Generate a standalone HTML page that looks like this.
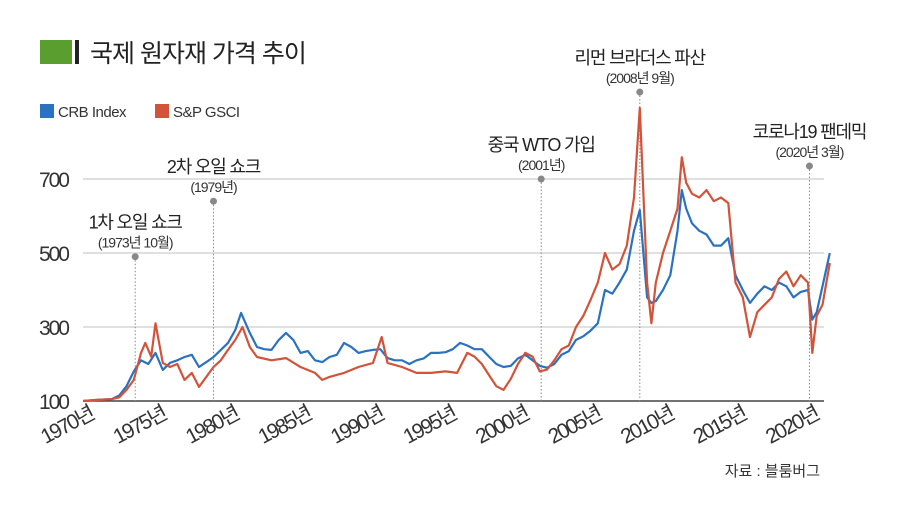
<!DOCTYPE html>
<html><head><meta charset="utf-8"><style>
body{margin:0;background:#fff;}
svg{display:block;font-family:"Liberation Sans","Noto Sans CJK KR",sans-serif;}
</style></head><body>
<svg id="chart" width="900" height="521" viewBox="0 0 900 521">
<rect x="40" y="40" width="32" height="24" fill="#5a9e2f"/>
<rect x="75" y="40" width="4" height="24" fill="#222"/>
<text x="90" y="62" font-size="25" fill="#222" letter-spacing="-1">국제 원자재 가격 추이</text>
<g>
<rect x="40" y="104" width="14" height="14" fill="#2a72c0"/>
<text x="58" y="117" font-size="15" fill="#333" letter-spacing="-0.5">CRB Index</text>
<rect x="155" y="104" width="14" height="14" fill="#d2533a"/>
<text x="173" y="117" font-size="15" fill="#333" letter-spacing="-0.5">S&amp;P GSCI</text>
</g>
<g id="grid"></g><g id="yt"></g><g id="xt"></g><g id="ann"></g><g id="series"></g>
<text x="820" y="476" font-size="15" text-anchor="end" fill="#333">자료 : 블룸버그</text>
</svg>
<script>
const yTicks=[100,300,500,700];
const xTicks=[1970,1975,1980,1985,1990,1995,2000,2005,2010,2015,2020];
const crbYears=[1970,1971,1972,1972.5,1973,1973.5,1974,1974.5,1975,1975.5,1976,1976.5,1977,1977.5,1978,1978.5,1979,1979.5,1980,1980.5,1980.9,1981.5,1982,1982.5,1983,1983.5,1984,1984.5,1985,1985.5,1986,1986.5,1987,1987.5,1988,1988.5,1989,1989.5,1990,1990.5,1991,1991.5,1992,1992.5,1993,1993.5,1994,1994.5,1995,1995.5,1996,1996.5,1997,1997.5,1998,1998.5,1999,1999.5,2000,2000.5,2001,2001.5,2002,2002.5,2003,2003.5,2004,2004.5,2005,2005.5,2006,2006.5,2007,2007.5,2008,2008.4,2008.9,2009.2,2009.5,2010,2010.5,2011,2011.3,2011.6,2012,2012.5,2013,2013.5,2014,2014.5,2015,2015.5,2016,2016.5,2017,2017.5,2018,2018.5,2019,2019.5,2020,2020.3,2020.6,2021,2021.5];
const crbValues=[100,103,105,115,140,180,210,200,230,184,203,210,219,225,192,205,219,238,257,292,338,284,246,240,238,265,284,265,230,235,210,205,219,225,257,246,230,235,238,240,216,210,210,200,210,215,230,230,232,240,257,250,240,240,220,200,192,195,215,225,210,195,190,200,225,235,265,275,290,310,400,390,420,455,560,616,380,365,370,400,440,560,670,620,580,560,550,520,520,540,440,400,365,390,410,400,420,410,380,395,400,320,340,410,500];
const gsciYears=[1970,1971,1972,1972.5,1973,1973.5,1974,1974.3,1974.7,1975,1975.5,1976,1976.5,1977,1977.5,1978,1978.5,1979,1979.5,1980,1980.5,1981,1981.5,1982,1983,1984,1985,1986,1986.5,1987,1988,1989,1990,1990.6,1991,1992,1993,1994,1995,1995.8,1996.5,1997,1997.5,1998,1998.5,1999,1999.5,2000,2000.5,2001,2001.5,2002,2002.5,2003,2003.5,2004,2004.5,2005,2005.5,2006,2006.5,2007,2007.5,2008,2008.4,2008.9,2009.2,2009.5,2010,2010.5,2011,2011.3,2011.6,2012,2012.5,2013,2013.5,2014,2014.5,2015,2015.5,2016,2016.5,2017,2017.5,2018,2018.5,2019,2019.5,2020,2020.3,2020.6,2021,2021.5];
const gsciValues=[100,103,105,110,130,157,230,257,220,310,203,192,200,157,176,138,165,192,210,238,265,300,246,219,210,216,192,176,157,165,176,192,203,273,203,192,176,176,180,176,230,220,200,170,140,130,160,200,230,220,180,185,210,240,250,300,330,373,420,500,455,470,520,650,892,420,310,420,500,560,620,759,690,660,650,670,640,650,635,420,380,273,340,360,380,430,450,410,440,420,230,330,360,473];
const annYears=[1973.6,1979,2001.6,2008.4,2020.1];
const annValues=[490,640,700,935,735];
const annTitles=["1차 오일 쇼크","2차 오일 쇼크","중국 WTO 가입","리먼 브라더스 파산","코로나19 팬데믹"];
const annDates=["(1973년 10월)","(1979년)","(2001년)","(2008년 9월)","(2020년 3월)"];
const NS="http://www.w3.org/2000/svg";
const X=y=>83+(y-1970)*14.5;
const Y=v=>401-(v-100)*0.37;
function mk(t,a,p){const e=document.createElementNS(NS,t);for(const k in a)e.setAttribute(k,a[k]);p.appendChild(e);return e;}
const grid=document.getElementById('grid'),yt=document.getElementById('yt'),xt=document.getElementById('xt'),ann=document.getElementById('ann'),ser=document.getElementById('series');
yTicks.forEach(v=>{
 const l=mk('line',{x1:83,x2:824,y1:Y(v),y2:Y(v),stroke:v===100?'#444':'#d6d6d6','stroke-width':1.5},grid);
 
 
 const t=mk('text',{x:68,y:Y(v)+8,'font-size':21,'text-anchor':'end',fill:'#333','letter-spacing':'-2'},yt);
 t.textContent=v;
 
 
});
xTicks.forEach(yr=>{
 const ax=X(yr)+12, ay=418;
 const t=mk('text',{x:ax,y:ay,'font-size':21,'text-anchor':'end',fill:'#333','letter-spacing':'-2',transform:`rotate(-28 ${ax} ${ay})`},xt);
 t.textContent=yr+'년';
 
 
});
annYears.forEach((yr,i)=>{
 const x=X(yr),y=Y(annValues[i]);
 const l=mk('line',{x1:x,x2:x,y1:y,y2:401,stroke:'#888','stroke-width':1,'stroke-dasharray':'1.5,2'},ann);
 
 
 const c=mk('circle',{cx:x,cy:y,r:3.5,fill:'#888'},ann);
 
 
 const t1=mk('text',{x:x,y:y-28,'font-size':18,'text-anchor':'middle',fill:'#222','letter-spacing':'-1.2'},ann);
 t1.textContent=annTitles[i];
 
 
 const t2=mk('text',{x:x,y:y-9,'font-size':14,'text-anchor':'middle',fill:'#333','letter-spacing':'-1'},ann);
 t2.textContent=annDates[i];
 
 
});
function line(ys,vs,col,name){
 const d=ys.map((yr,i)=>(i?'L':'M')+X(yr).toFixed(1)+','+Y(vs[i]).toFixed(1)).join('');
 const p=mk('path',{d:d,fill:'none',stroke:col,'stroke-width':2.2,'stroke-linejoin':'round'},ser);
 
 
}
line(crbYears,crbValues,'#2a72c0','crb-index-line');
line(gsciYears,gsciValues,'#d2533a','sp-gsci-line');
</script>
</body></html>
